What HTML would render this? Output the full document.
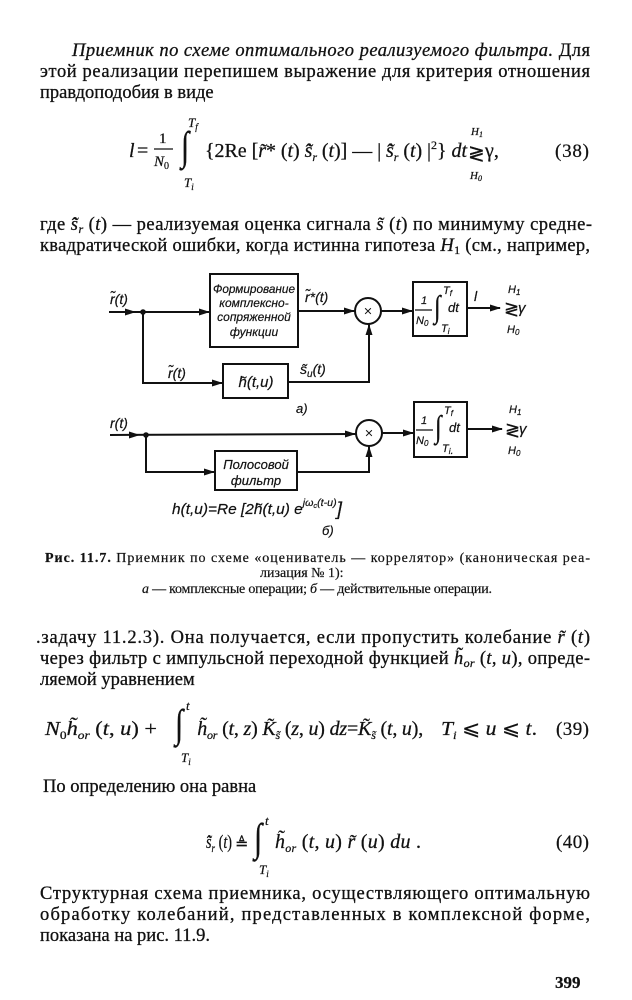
<!DOCTYPE html>
<html><head><meta charset="utf-8"><style>
html,body{margin:0;padding:0;background:#fff;}
svg{display:block;}
.b{font-family:"Liberation Serif",serif;font-size:18.5px;fill:#111;stroke:#111;stroke-width:0.3;}
.i{font-style:italic;}
.m{font-family:"Liberation Serif",serif;fill:#111;stroke:#111;stroke-width:0.25;}
.d{font-family:"Liberation Sans",sans-serif;font-style:italic;fill:#111;stroke:#111;stroke-width:0.2;}
.c{font-family:"Liberation Serif",serif;font-size:14px;fill:#111;stroke:#111;stroke-width:0.2;}
</style></head><body>
<svg width="632" height="1000" viewBox="0 0 632 1000" xmlns="http://www.w3.org/2000/svg">
<rect width="632" height="1000" fill="#fff"/>

<!-- Paragraph 1 -->
<text class="b" x="72" y="56" textLength="518" lengthAdjust="spacing"><tspan class="i">Приемник по схеме оптимального реализуемого фильтра.</tspan> Для</text>
<text class="b" x="40" y="77" textLength="550" lengthAdjust="spacing">этой реализации перепишем выражение для критерия отношения</text>
<text class="b" x="40" y="98">правдоподобия в виде</text>

<!-- Eq 38 -->
<text class="m i" x="129" y="157" font-size="20">l</text>
<text class="m" x="137" y="157" font-size="20">=</text>
<text class="m" x="159" y="143" font-size="15">1</text>
<line x1="154" y1="149" x2="173" y2="149" stroke="#111" stroke-width="1.3"/>
<text class="m" x="154" y="166" font-size="15"><tspan class="i">N</tspan><tspan font-size="10" dy="3">0</tspan></text>
<text class="m" x="181" y="118" font-size="30" transform="scale(1,1.35)">∫</text>
<text class="m i" x="188" y="127" font-size="13">T<tspan font-size="9" dy="3">f</tspan></text>
<text class="m i" x="184" y="187" font-size="13">T<tspan font-size="9" dy="3">i</tspan></text>
<text class="m" x="205" y="157" font-size="20" textLength="262" lengthAdjust="spacing">{2Re [<tspan class="i">r̃</tspan>* (<tspan class="i">t</tspan>) <tspan class="i">s̃̂</tspan><tspan class="i" font-size="12" dy="4">r</tspan><tspan dy="-4"> (</tspan><tspan class="i">t</tspan>)] — | <tspan class="i">s̃̂</tspan><tspan class="i" font-size="12" dy="4">r</tspan><tspan dy="-4"> (</tspan><tspan class="i">t</tspan>) |<tspan font-size="12" dy="-8">2</tspan><tspan dy="8">} </tspan><tspan class="i">dt</tspan></text>
<text class="m i" x="471" y="135" font-size="11">H<tspan font-size="8" dy="2">1</tspan></text>
<text class="m" x="468" y="160" font-size="20">≷</text>
<text class="m i" x="470" y="179" font-size="11">H<tspan font-size="8" dy="2">0</tspan></text>
<text class="m" x="485" y="157" font-size="20">γ,</text>
<text class="m" x="555" y="157" font-size="19" textLength="34" lengthAdjust="spacing">(38)</text>

<!-- Paragraph 2 -->
<text class="b" x="40" y="230" textLength="552" lengthAdjust="spacing">где <tspan class="i">s̃̂</tspan><tspan class="i" font-size="12" dy="3">r</tspan><tspan dy="-3"> (</tspan><tspan class="i">t</tspan>) — реализуемая оценка сигнала <tspan class="i">s̃</tspan> (<tspan class="i">t</tspan>) по минимуму средне-</text>
<text class="b" x="40" y="251" textLength="550" lengthAdjust="spacing">квадратической ошибки, когда истинна гипотеза <tspan class="i">H</tspan><tspan font-size="12" dy="3">1</tspan><tspan dy="-3"> (см., например,</tspan></text>

<!-- ===== Diagram ===== -->
<g stroke="#111" stroke-width="2" fill="none">
  <line x1="109" y1="312" x2="210" y2="312"/>
  <polyline points="143,312 143,383 223,383"/>
  <rect x="210" y="274" width="88" height="73"/>
  <line x1="298" y1="311" x2="355" y2="311"/>
  <circle cx="368" cy="311" r="13"/>
  <line x1="381" y1="311" x2="413" y2="311"/>
  <rect x="413" y="282" width="54" height="54"/>
  <line x1="467" y1="308" x2="500" y2="308"/>
  <rect x="223" y="364" width="65" height="34"/>
  <polyline points="288,382 369,382 369,324"/>
  <line x1="110" y1="435" x2="356" y2="434"/>
  <polyline points="146,435 146,472 215,472"/>
  <rect x="215" y="451" width="82" height="39"/>
  <polyline points="297,472 369,472 369,446"/>
  <circle cx="369" cy="433" r="13"/>
  <line x1="382" y1="433" x2="414" y2="433"/>
  <rect x="414" y="402" width="53" height="55"/>
  <line x1="467" y1="429" x2="502" y2="429"/>
</g>
<g fill="#111">
  <circle cx="143" cy="312" r="2.8"/>
  <circle cx="146" cy="435" r="2.8"/>
  <polygon points="136,312 125,308.5 125,315.5"/>
  <polygon points="210,312 199,308.5 199,315.5"/>
  <polygon points="223,383 212,379.5 212,386.5"/>
  <polygon points="355,311 344,307.5 344,314.5"/>
  <polygon points="413,311 402,307.5 402,314.5"/>
  <polygon points="501,308 490,304.5 490,311.5"/>
  <polygon points="140,435 129,431.5 129,438.5"/>
  <polygon points="356,434 345,430.5 345,437.5"/>
  <polygon points="215,472 204,468.5 204,475.5"/>
  <polygon points="414,433 403,429.5 403,436.5"/>
  <polygon points="503,429 492,425.5 492,432.5"/>
  <polygon points="369,324 365.5,335 372.5,335"/>
  <polygon points="369,446 365.5,457 372.5,457"/>
</g>

<!-- diagram labels part a -->
<text class="d" x="110" y="304" font-size="14">r̃(t)</text>
<g class="d" font-size="12" text-anchor="middle">
  <text x="254" y="293" textLength="82" lengthAdjust="spacingAndGlyphs">Формирование</text>
  <text x="254" y="307">комплексно-</text>
  <text x="254" y="321">сопряженной</text>
  <text x="254" y="336">функции</text>
</g>
<text class="d" x="305" y="302" font-size="14">r̃*(t)</text>
<text class="m" x="368" y="316" font-size="15" text-anchor="middle">×</text>
<text class="d" x="421" y="304" font-size="11">1</text>
<line x1="415" y1="310" x2="432" y2="310" stroke="#111" stroke-width="1.2"/>
<text class="d" x="416" y="324" font-size="11">N<tspan font-size="8" dy="2">0</tspan></text>
<text class="m" x="434" y="244" font-size="24" transform="scale(1,1.3)">∫</text>
<text class="d" x="443" y="294" font-size="11">T<tspan font-size="8" dy="2">f</tspan></text>
<text class="d" x="441" y="332" font-size="11">T<tspan font-size="8" dy="2">i</tspan></text>
<text class="d" x="448" y="312" font-size="13">dt</text>
<text class="d" x="474" y="301" font-size="14">l</text>
<text class="d" x="508" y="293" font-size="11">H<tspan font-size="8" dy="2">1</tspan></text>
<text class="m" x="504" y="315" font-size="18">≷</text>
<text class="d" x="518" y="313" font-size="15">γ</text>
<text class="d" x="507" y="333" font-size="11">H<tspan font-size="8" dy="2">0</tspan></text>
<text class="d" x="168" y="378" font-size="14">r̃(t)</text>
<text class="d" x="256" y="387" font-size="15" text-anchor="middle">h̃(t,u)</text>
<text class="d" x="300" y="374" font-size="14">s̃<tspan font-size="10" dy="3">u</tspan><tspan dy="-3">(t)</tspan></text>
<text class="d" x="296" y="413" font-size="13">а)</text>

<!-- diagram labels part b -->
<text class="d" x="110" y="428" font-size="14">r(t)</text>
<g class="d" font-size="13" text-anchor="middle">
  <text x="256" y="469">Полосовой</text>
  <text x="256" y="485">фильтр</text>
</g>
<text class="m" x="369" y="438" font-size="15" text-anchor="middle">×</text>
<text class="d" x="421" y="424" font-size="11">1</text>
<line x1="416" y1="430" x2="433" y2="430" stroke="#111" stroke-width="1.2"/>
<text class="d" x="416" y="444" font-size="11">N<tspan font-size="8" dy="2">0</tspan></text>
<text class="m" x="435" y="336" font-size="24" transform="scale(1,1.3)">∫</text>
<text class="d" x="444" y="414" font-size="11">T<tspan font-size="8" dy="2">f</tspan></text>
<text class="d" x="442" y="452" font-size="11">T<tspan font-size="8" dy="2">i</tspan>.</text>
<text class="d" x="449" y="432" font-size="13">dt</text>
<text class="d" x="509" y="413" font-size="11">H<tspan font-size="8" dy="2">1</tspan></text>
<text class="m" x="505" y="436" font-size="18">≷</text>
<text class="d" x="519" y="434" font-size="15">γ</text>
<text class="d" x="508" y="454" font-size="11">H<tspan font-size="8" dy="2">0</tspan></text>
<text class="d" x="172" y="514" font-size="14.5" textLength="170" lengthAdjust="spacingAndGlyphs">h(t,u)=Re [2h̃(t,u) e<tspan font-size="10" dy="-8">jω</tspan><tspan font-size="7" dy="2">c</tspan><tspan font-size="10" dy="-2">(t-u)</tspan><tspan dy="9" font-size="18">]</tspan></text>
<text class="d" x="322" y="535" font-size="13">б)</text>

<!-- Caption -->
<text class="c" x="45" y="562" textLength="545" lengthAdjust="spacing"><tspan font-weight="bold">Рис. 11.7.</tspan> Приемник по схеме «оцениватель — коррелятор» (каноническая реа-</text>
<text class="c" x="260" y="577">лизация № 1):</text>
<text class="c" x="142" y="593" font-size="12" textLength="350" lengthAdjust="spacing"><tspan class="i">а</tspan> — комплексные операции; <tspan class="i">б</tspan> — действительные операции.</text>

<!-- Paragraph 3 -->
<text class="b" x="36" y="643" textLength="554" lengthAdjust="spacing">.задачу 11.2.3). Она получается, если пропустить колебание <tspan class="i">r̃</tspan> (<tspan class="i">t</tspan>)</text>
<text class="b" x="40" y="664" textLength="550" lengthAdjust="spacing">через фильтр с импульсной переходной функцией <tspan class="i">h̃</tspan><tspan class="i" font-size="12" dy="3">or</tspan><tspan dy="-3"> (</tspan><tspan class="i">t</tspan>, <tspan class="i">u</tspan>), опреде-</text>
<text class="b" x="40" y="685">ляемой уравнением</text>

<!-- Eq 39 -->
<text class="m" x="45" y="735" font-size="20" textLength="112" lengthAdjust="spacingAndGlyphs"><tspan class="i">N</tspan><tspan font-size="12" dy="4">0</tspan><tspan class="i" dy="-4">h̃</tspan><tspan class="i" font-size="12" dy="4">or</tspan><tspan dy="-4"> (</tspan><tspan class="i">t</tspan>, <tspan class="i">u</tspan>) +</text>
<text class="m" x="175" y="554" font-size="30" transform="scale(1,1.33)">∫</text>
<text class="m i" x="186" y="710" font-size="13">t</text>
<text class="m i" x="181" y="762" font-size="13">T<tspan font-size="9" dy="3">i</tspan></text>
<text class="m" x="197" y="735" font-size="20" textLength="226" lengthAdjust="spacing"><tspan class="i">h̃</tspan><tspan class="i" font-size="12" dy="4">or</tspan><tspan dy="-4"> (</tspan><tspan class="i">t</tspan>, <tspan class="i">z</tspan>) <tspan class="i">K̃</tspan><tspan class="i" font-size="12" dy="4">s̃</tspan><tspan dy="-4"> (</tspan><tspan class="i">z</tspan>, <tspan class="i">u</tspan>) <tspan class="i">dz</tspan>=<tspan class="i">K̃</tspan><tspan class="i" font-size="12" dy="4">s̃</tspan><tspan dy="-4"> (</tspan><tspan class="i">t</tspan>, <tspan class="i">u</tspan>),</text>
<text class="m" x="441" y="735" font-size="20" textLength="96" lengthAdjust="spacingAndGlyphs"><tspan class="i">T</tspan><tspan class="i" font-size="12" dy="4">i</tspan><tspan dy="-4"> ⩽ </tspan><tspan class="i">u</tspan> ⩽ <tspan class="i">t</tspan>.</text>
<text class="m" x="556" y="735" font-size="19" textLength="33" lengthAdjust="spacing">(39)</text>

<text class="b" x="43" y="792">По определению она равна</text>

<!-- Eq 40 -->
<text class="m" x="206" y="848" font-size="19" textLength="26" lengthAdjust="spacingAndGlyphs"><tspan class="i">s̃̂</tspan><tspan class="i" font-size="12" dy="4">r</tspan><tspan dy="-4"> (</tspan><tspan class="i">t</tspan>)</text>
<text class="m" x="235" y="849" font-size="16">≜</text>
<text class="m" x="254" y="640" font-size="30" transform="scale(1,1.33)">∫</text>
<text class="m i" x="265" y="825" font-size="13">t</text>
<text class="m i" x="259" y="874" font-size="13">T<tspan font-size="9" dy="3">i</tspan></text>
<text class="m" x="275" y="848" font-size="20" textLength="146" lengthAdjust="spacing"><tspan class="i">h̃</tspan><tspan class="i" font-size="12" dy="4">or</tspan><tspan dy="-4"> (</tspan><tspan class="i">t</tspan>, <tspan class="i">u</tspan>) <tspan class="i">r̃</tspan> (<tspan class="i">u</tspan>) <tspan class="i">du</tspan> .</text>
<text class="m" x="556" y="848" font-size="19" textLength="33" lengthAdjust="spacing">(40)</text>

<!-- Paragraph 4 -->
<text class="b" x="40" y="899" textLength="550" lengthAdjust="spacing">Структурная схема приемника, осуществляющего оптимальную</text>
<text class="b" x="40" y="920" textLength="550" lengthAdjust="spacing">обработку колебаний, представленных в комплексной форме,</text>
<text class="b" x="40" y="941">показана на рис. 11.9.</text>

<text class="m" x="555" y="988" font-size="17" font-weight="bold">399</text>
</svg>
</body></html>
